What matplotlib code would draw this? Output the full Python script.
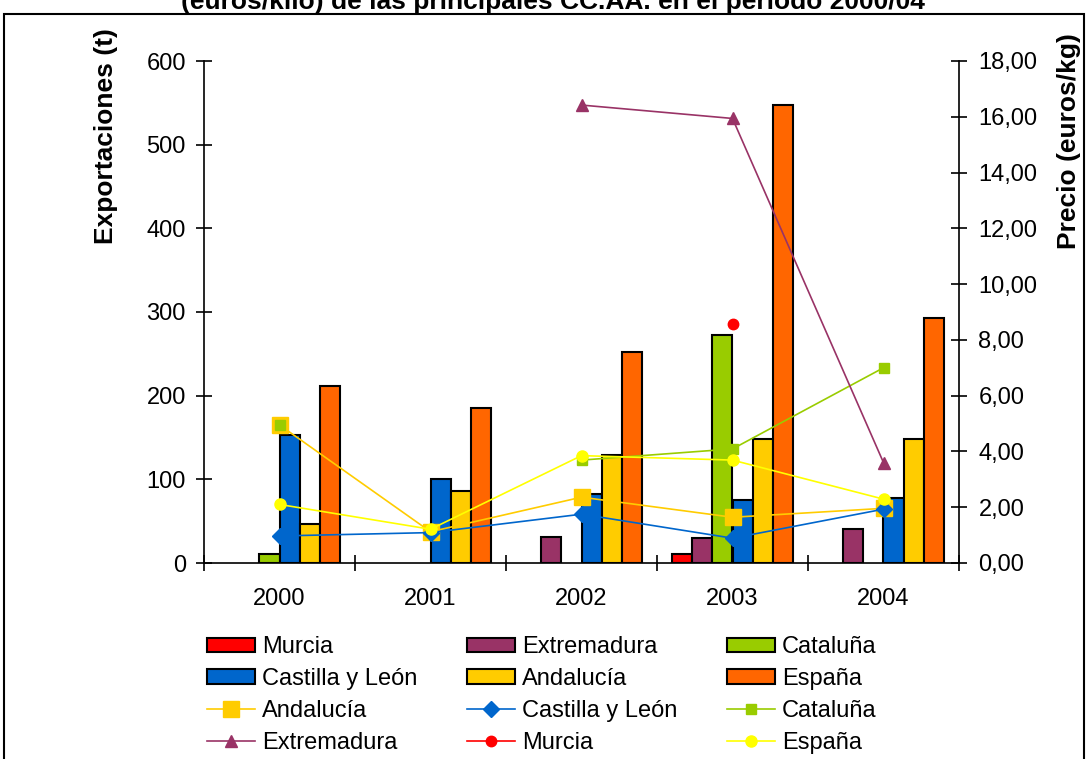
import numpy as np
import matplotlib
matplotlib.use('Agg')
import matplotlib.pyplot as plt
from matplotlib.patches import Rectangle
from matplotlib.ticker import FuncFormatter, MultipleLocator, FixedLocator

plt.rcParams['font.family'] = ['Liberation Sans', 'DejaVu Sans']

# Datos
anios = ['2000', '2001', '2002', '2003', '2004']
nan = np.nan

# Exportaciones (t) - barras
murcia_t = [nan, nan, nan, 11, nan]
extremadura_t = [nan, nan, 31, 30, 41]
cataluna_t = [11, nan, nan, 273, nan]
cyl_t = [153, 100, 82, 75, 78]
andalucia_t = [47, 86, 129, 148, 148]
espana_t = [211, 185, 252, 547, 293]

# Precio (euros/kg) - lineas
andalucia_p = [4.95, 1.12, 2.36, 1.64, 1.96]
cyl_p = [0.97, 1.09, 1.75, 0.89, 1.93]
cataluna_p = [4.95, nan, 3.69, 4.09, 7.00]
extremadura_p = [nan, nan, 16.42, 15.94, 3.60]
murcia_p = [nan, nan, nan, 8.56, nan]
espana_p = [2.10, 1.21, 3.85, 3.69, 2.29]

W, H = 1088, 759
fig = plt.figure(figsize=(W / 100, H / 100), dpi=100)
ax = fig.add_axes([204 / W, 1 - 563 / H, 755 / W, 502 / H])
ax2 = ax.twinx()

x = np.arange(len(anios))
ancho = 0.8 / 6

barras = [
    (murcia_t, '#FF0000', 'Murcia'),
    (extremadura_t, '#993366', 'Extremadura'),
    (cataluna_t, '#99CC00', 'Cataluña'),
    (cyl_t, '#0066CC', 'Castilla y León'),
    (andalucia_t, '#FFCC00', 'Andalucía'),
    (espana_t, '#FF6600', 'España'),
]
h_barras = []
for i, (vals, col, nom) in enumerate(barras):
    vals = np.array(vals, dtype=float)
    ok = ~np.isnan(vals)
    b = ax.bar(x[ok] + (i - 2.5) * ancho, vals[ok], ancho, color=col,
               edgecolor='black', linewidth=1.5, label=nom)
    h_barras.append(b)

lineas = [
    (andalucia_p, '#FFCC00', 's', 12, 'Andalucía'),
    (cyl_p, '#0066CC', 'D', 8, 'Castilla y León'),
    (cataluna_p, '#99CC00', 's', 7, 'Cataluña'),
    (extremadura_p, '#993366', '^', 9, 'Extremadura'),
    (murcia_p, '#FF0000', 'o', 7.5, 'Murcia'),
    (espana_p, '#FFFF00', 'o', 8, 'España'),
]
h_lineas = []
for vals, col, mk, ms, nom in lineas:
    l, = ax2.plot(x, vals, color=col, marker=mk, markersize=ms, linewidth=1.2,
                  markeredgecolor=col, label=nom)
    h_lineas.append(l)

# Ejes
ax.set_xlim(-0.5, 4.5)
ax.set_ylim(0, 600)
ax2.set_ylim(0, 18)
ax.yaxis.set_major_locator(MultipleLocator(100))
ax2.yaxis.set_major_locator(MultipleLocator(2))
ax2.yaxis.set_major_formatter(FuncFormatter(lambda v, p: f'{v:.2f}'.replace('.', ',')))

ax.set_xticks(x)
ax.set_xticklabels(anios)
ax.xaxis.set_minor_locator(FixedLocator(np.arange(-0.5, 5, 1)))
ax.tick_params(axis='x', which='major', length=0, pad=18, labelsize=17)
ax.tick_params(axis='x', which='minor', direction='inout', length=12, width=1.2)
ax.tick_params(axis='y', direction='inout', length=12, width=1.2, pad=7, labelsize=17)
ax2.tick_params(axis='y', direction='inout', length=12, width=1.2, pad=8, labelsize=17)

for s in ['top', 'right']:
    ax.spines[s].set_visible(False)
for s in ['top', 'left', 'bottom']:
    ax2.spines[s].set_visible(False)
ax.spines['left'].set_linewidth(1.2)
ax.spines['bottom'].set_linewidth(1.2)
ax2.spines['right'].set_linewidth(1.2)

# Textos (el titulo queda cortado arriba, como en el original)
fig.text(553 / W, 1 - 9 / H,
         '(euros/kilo) de las principales CC.AA. en el período 2000/04',
         ha='center', va='baseline', fontsize=19, fontweight='bold')
fig.text(106 / W, 1 - 136 / H, 'Exportaciones (t)', rotation=90,
         ha='center', va='center', fontsize=19, fontweight='bold')
fig.text(1069 / W, 1 - 141 / H, 'Precio (euros/kg)', rotation=90,
         ha='center', va='center', fontsize=19, fontweight='bold')

# Marco
fig.patches.append(Rectangle((4 / W, -0.1), (1084 - 4) / W, 1.1 - 14 / H,
                             transform=fig.transFigure, fill=False,
                             edgecolor='black', linewidth=1.5))

# Leyenda (se rellena por columnas)
orden = [h_barras[0], h_barras[3], h_lineas[0], h_lineas[3],
         h_barras[1], h_barras[4], h_lineas[1], h_lineas[4],
         h_barras[2], h_barras[5], h_lineas[2], h_lineas[5]]
fig.legend(orden, [h.get_label() for h in orden], ncol=3, loc='upper left',
           bbox_to_anchor=(207 / W, 1 - 636 / H), frameon=False, fontsize=17,
           handlelength=2.03, handleheight=0.55, handletextpad=0.3,
           columnspacing=2.1, labelspacing=0.42, borderpad=0, borderaxespad=0,
           numpoints=1)

plt.savefig('out.png', dpi=100)
